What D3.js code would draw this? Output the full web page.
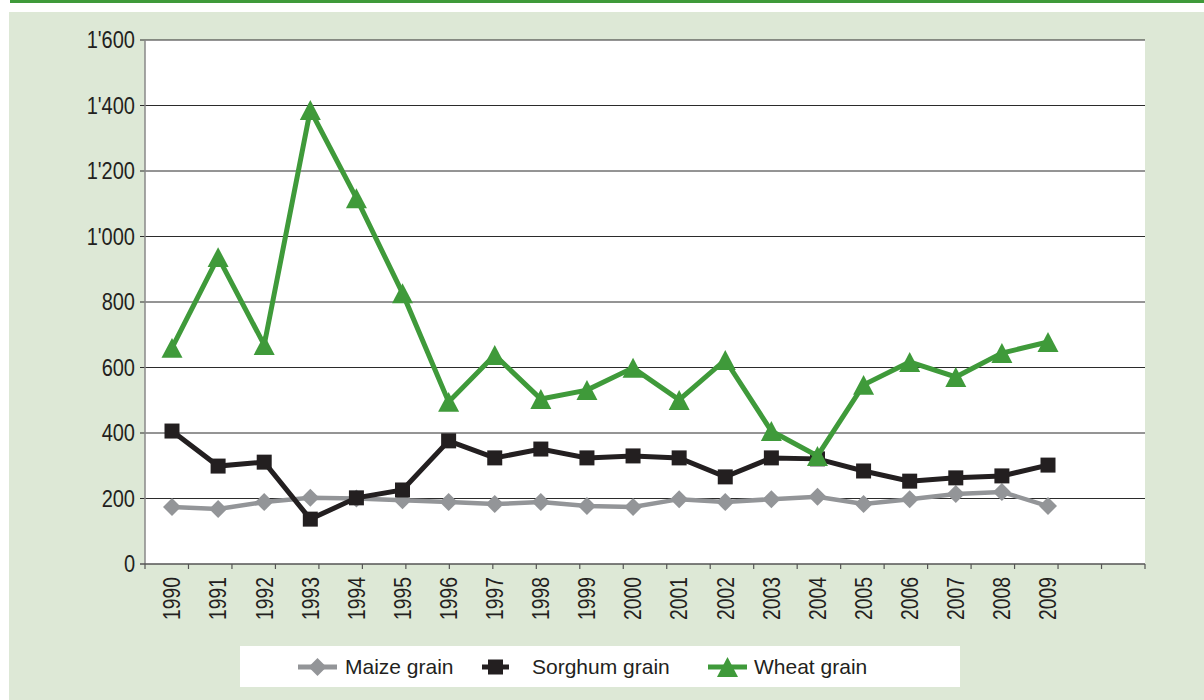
<!DOCTYPE html>
<html>
<head>
<meta charset="utf-8">
<script src="https://cdn.jsdelivr.net/npm/d3@7"></script>
<style>
  body { margin: 0; background: #fff; }
  svg { display: block; }
</style>
</head>
<body>
<div id="chart"></div>
<script>
// values
var years = ["1990","1991","1992","1993","1994","1995","1996","1997","1998","1999",
             "2000","2001","2002","2003","2004","2005","2006","2007","2008","2009"];
var maize   = [174,168,189,202,200,195,189,183,189,177,174,198,189,198,205,183,198,214,220,177];
var sorghum = [406,299,311,137,202,226,376,324,351,324,330,324,266,324,321,284,253,263,269,302];
var wheat   = [660,937,669,1386,1117,827,495,638,504,531,599,501,623,406,330,547,617,571,644,678];
var yTicks  = [0,200,400,600,800,1000,1200,1400,1600];
var seriesNames = ["Maize grain","Sorghum grain","Wheat grain"];
var nSlots = 23; // tick divisions along the x axis

var width = 1204, height = 700;
var plot = { left: 145, right: 1145, top: 40, bottom: 564 };

var svg = d3.select("#chart").append("svg")
  .attr("width", width)
  .attr("height", height);

// frame
svg.append("rect").attr("x", 10).attr("y", 0).attr("width", width - 10).attr("height", 3).attr("fill", "#3f9a3a");
svg.append("rect").attr("x", 9).attr("y", 12).attr("width", width - 9).attr("height", height - 12).attr("fill", "#dde8d6");
svg.append("rect")
  .attr("x", plot.left).attr("y", plot.top)
  .attr("width", plot.right - plot.left).attr("height", plot.bottom - plot.top)
  .attr("fill", "#fff");

var x = d3.scalePoint().domain(years).range([172, 1048]);
var xSlot = d3.scaleLinear().domain([0, nSlots]).range([plot.left, plot.right]);
var y = d3.scaleLinear().domain([0, 1600]).range([plot.bottom, plot.top]);

var fmt = d3.formatLocale({ decimal: ".", thousands: "'", grouping: [3], currency: ["", ""] }).format(",");
var axisFont = "'Liberation Sans', Arial, sans-serif";
var squeeze = 0.87; // the original uses a condensed face

// grid + y labels
var grid = svg.append("g");
grid.selectAll("line")
  .data(yTicks.filter(function(d) { return d > 0; }))
  .enter().append("line")
  .attr("x1", plot.left - 5).attr("x2", plot.right)
  .attr("y1", function(d) { return y(d); })
  .attr("y2", function(d) { return y(d); })
  .attr("stroke", "#2b2b2b")
  .attr("stroke-width", 1);

svg.append("g").selectAll("text")
  .data(yTicks)
  .enter().append("text")
  .attr("transform", function(d) { return "translate(135," + y(d) + ") scale(" + squeeze + ",1)"; })
  .attr("dy", "0.36em")
  .attr("text-anchor", "end")
  .attr("font-family", axisFont)
  .attr("font-size", "23px")
  .attr("fill", "#231f20")
  .text(function(d) { return fmt(d); });

// y axis line
svg.append("line")
  .attr("x1", plot.left).attr("x2", plot.left)
  .attr("y1", plot.top).attr("y2", plot.bottom)
  .attr("stroke", "#888").attr("stroke-width", 1.5);

// x axis line and ticks
svg.append("line")
  .attr("x1", plot.left - 5).attr("x2", plot.right)
  .attr("y1", plot.bottom).attr("y2", plot.bottom)
  .attr("stroke", "#555").attr("stroke-width", 1.5);

svg.append("g").selectAll("line")
  .data(d3.range(nSlots + 1))
  .enter().append("line")
  .attr("x1", function(d) { return xSlot(d); })
  .attr("x2", function(d) { return xSlot(d); })
  .attr("y1", plot.bottom)
  .attr("y2", plot.bottom + 5)
  .attr("stroke", "#555").attr("stroke-width", 1.2);

// year labels, rotated
svg.append("g").selectAll("text")
  .data(years)
  .enter().append("text")
  .attr("transform", function(d) {
    return "translate(" + x(d) + "," + 577 + ") rotate(-90) scale(" + 0.84 + ",1)";
  })
  .attr("dy", "0.36em")
  .attr("text-anchor", "end")
  .attr("font-family", axisFont)
  .attr("font-size", "23px")
  .attr("fill", "#231f20")
  .text(function(d) { return d; });

// series
var series = [
  { name: seriesNames[0], values: maize,   color: "#939598", shape: "diamond",  size: 18, lw: 4.5 },
  { name: seriesNames[1], values: sorghum, color: "#231f20", shape: "square",   size: 15, lw: 5 },
  { name: seriesNames[2], values: wheat,   color: "#3f9a3a", shape: "triangle", size: 21, lw: 5 }
];

var line = d3.line()
  .x(function(d, i) { return x(years[i]); })
  .y(function(d) { return y(d); });

function markerPath(s) {
  if (s.shape === "diamond") {
    var h = s.size / 2;
    return "M0," + (-h) + "L" + h + ",0L0," + h + "L" + (-h) + ",0Z";
  }
  if (s.shape === "square") {
    var q = s.size / 2;
    return "M" + (-q) + "," + (-q) + "H" + q + "V" + q + "H" + (-q) + "Z";
  }
  var w = s.size / 2, t = s.size * 0.95;
  return "M0," + (-t / 2) + "L" + w + "," + (t / 2) + "L" + (-w) + "," + (t / 2) + "Z";
}

series.forEach(function(s) {
  var g = svg.append("g");
  g.append("path")
    .datum(s.values)
    .attr("d", line)
    .attr("fill", "none")
    .attr("stroke", s.color)
    .attr("stroke-width", s.lw)
    .attr("stroke-linejoin", "miter");
  g.selectAll("path.mark")
    .data(s.values)
    .enter().append("path")
    .attr("class", "mark")
    .attr("d", markerPath(s))
    .attr("transform", function(d, i) { return "translate(" + x(years[i]) + "," + y(d) + ")"; })
    .attr("fill", s.color);
});

// legend
svg.append("rect")
  .attr("x", 240).attr("y", 646).attr("width", 720).attr("height", 41)
  .attr("fill", "#fff");

var legendItems = [
  { s: series[0], x1: 298, x2: 337, tx: 345 },
  { s: series[1], x1: 482, x2: 509, tx: 532 },
  { s: series[2], x1: 708, x2: 747, tx: 754 }
];

var legend = svg.append("g").selectAll("g")
  .data(legendItems)
  .enter().append("g");

legend.append("line")
  .attr("x1", function(d) { return d.x1; })
  .attr("x2", function(d) { return d.x2; })
  .attr("y1", 667).attr("y2", 667)
  .attr("stroke", function(d) { return d.s.color; })
  .attr("stroke-width", 5);

legend.append("path")
  .attr("d", function(d) { return markerPath(d.s); })
  .attr("transform", function(d) { return "translate(" + ((d.x1 + d.x2) / 2) + ",667)"; })
  .attr("fill", function(d) { return d.s.color; });

legend.append("text")
  .attr("x", function(d) { return d.tx; })
  .attr("y", 674)
  .attr("font-family", "'Liberation Sans', Arial, sans-serif")
  .attr("font-size", "21px")
  .attr("fill", "#231f20")
  .text(function(d) { return d.s.name; });
</script>
</body>
</html>
